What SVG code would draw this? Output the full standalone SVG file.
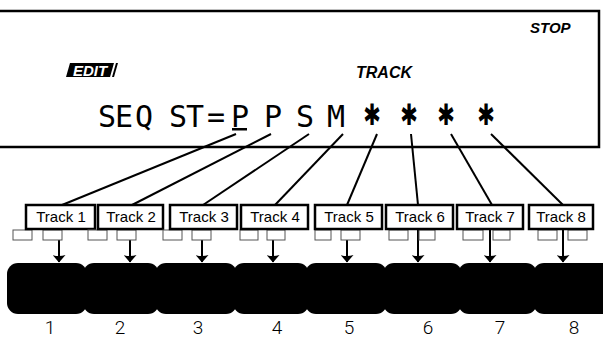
<svg xmlns="http://www.w3.org/2000/svg" width="603" height="339" viewBox="0 0 603 339">
<style>
.lcd{font-family:"DejaVu Sans Mono",monospace;font-size:30px;fill:#000;text-anchor:middle}
.ast{font-family:"DejaVu Sans",sans-serif;font-size:28px;fill:#000;text-anchor:middle}
.lbl{font-family:"Liberation Sans",Arial,sans-serif;font-weight:bold;font-style:italic;fill:#000}
.tb{fill:#fff;stroke:#000;stroke-width:2.5}
.tt{font-family:"Liberation Sans",Arial,sans-serif;font-size:15px;fill:#000;text-anchor:middle}
.sm{fill:#fff;stroke:#555;stroke-width:1}
.conn{stroke:#000;stroke-width:2;fill:none}
.arr{stroke:#000;stroke-width:2;fill:none;marker-end:url(#ah)}
.blob{fill:#000}
.num{font-family:Roboto,"DejaVu Sans",sans-serif;font-weight:300;font-size:19px;fill:#000;text-anchor:middle}
</style>
<defs>
<marker id="ah" markerWidth="8" markerHeight="13" refX="7" refY="6.5" orient="auto" markerUnits="userSpaceOnUse" viewBox="0 0 8 13">
<path d="M0,0 Q2,6.5 0,13 L7.5,6.5 Z" fill="#000"/>
</marker>
</defs>
<g id="display">
<rect x="-3" y="11" width="602" height="136" fill="#fff" stroke="#000" stroke-width="2.5"/>
<text class="lbl" x="530" y="33" font-size="15">STOP</text>
<polygon points="66,77 70,63 114,63 110,77" fill="#000"/>
<polygon points="112,77 116,63 118,63 114,77" fill="#000"/>
<text x="90" y="75.5" font-family="Liberation Sans,Arial,sans-serif" font-weight="bold" font-style="italic" font-size="15" fill="#fff" text-anchor="middle">EDIT</text>
<text class="lbl" x="356" y="78" font-size="16">TRACK</text>
<g id="lcdtext">
<text class="lcd" x="107" y="127">S</text>
<text class="lcd" x="124" y="127">E</text>
<text class="lcd" x="144" y="127">Q</text>
<text class="lcd" x="178" y="127">S</text>
<text class="lcd" x="195" y="127">T</text>
<text class="lcd" x="216" y="127">=</text>
<text class="lcd" x="240" y="127">P</text>
<rect x="232" y="128" width="15" height="2.5" fill="#000"/>
<text class="lcd" x="273" y="127">P</text>
<text class="lcd" x="305" y="127">S</text>
<text class="lcd" x="336" y="127">M</text>
<text class="ast" transform="translate(372,125) scale(0.75,1.05)">✱</text>
<text class="ast" transform="translate(409,125) scale(0.75,1.05)">✱</text>
<text class="ast" transform="translate(446,125) scale(0.75,1.05)">✱</text>
<text class="ast" transform="translate(486,125) scale(0.75,1.05)">✱</text>
</g>
</g>
<g id="connectors">
<line class="conn" x1="236" y1="134" x2="62" y2="205"/>
<line class="conn" x1="271" y1="134" x2="132" y2="205"/>
<line class="conn" x1="309" y1="134" x2="203" y2="205"/>
<line class="conn" x1="343" y1="134" x2="275" y2="205"/>
<line class="conn" x1="377" y1="134" x2="347" y2="205"/>
<line class="conn" x1="411" y1="134" x2="418" y2="205"/>
<line class="conn" x1="451" y1="134" x2="492" y2="205"/>
<line class="conn" x1="491" y1="134" x2="563" y2="205"/>
<line class="arr" x1="59" y1="229" x2="59" y2="262"/>
<line class="arr" x1="130" y1="229" x2="130" y2="262"/>
<line class="arr" x1="202" y1="229" x2="202" y2="262"/>
<line class="arr" x1="273" y1="229" x2="273" y2="262"/>
<line class="arr" x1="347" y1="229" x2="347" y2="262"/>
<line class="arr" x1="418" y1="229" x2="418" y2="262"/>
<line class="arr" x1="490" y1="229" x2="490" y2="262"/>
<line class="arr" x1="563" y1="229" x2="563" y2="262"/>
</g>
<g id="track1"><rect class="sm" x="13" y="230" width="19" height="10"/><rect class="sm" x="43" y="230" width="19" height="10"/><rect class="tb" x="26" y="205" width="69" height="24"/><text class="tt" x="61" y="222">Track 1</text></g>
<g id="track2"><rect class="sm" x="88" y="230" width="19" height="10"/><rect class="sm" x="117" y="230" width="19" height="10"/><rect class="tb" x="98" y="205" width="65" height="24"/><text class="tt" x="131" y="222">Track 2</text></g>
<g id="track3"><rect class="sm" x="163" y="230" width="19" height="10"/><rect class="sm" x="192" y="230" width="19" height="10"/><rect class="tb" x="170" y="205" width="67" height="24"/><text class="tt" x="204" y="222">Track 3</text></g>
<g id="track4"><rect class="sm" x="240" y="230" width="18" height="10"/><rect class="sm" x="267" y="230" width="18" height="10"/><rect class="tb" x="241" y="205" width="67" height="24"/><text class="tt" x="275" y="222">Track 4</text></g>
<g id="track5"><rect class="sm" x="315" y="230" width="16" height="10"/><rect class="sm" x="341" y="230" width="19" height="10"/><rect class="tb" x="315" y="205" width="67" height="24"/><text class="tt" x="349" y="222">Track 5</text></g>
<g id="track6"><rect class="sm" x="389" y="230" width="19" height="10"/><rect class="sm" x="419" y="230" width="16" height="10"/><rect class="tb" x="386" y="205" width="67" height="24"/><text class="tt" x="420" y="222">Track 6</text></g>
<g id="track7"><rect class="sm" x="463" y="230" width="20" height="10"/><rect class="sm" x="493" y="230" width="17" height="10"/><rect class="tb" x="457" y="205" width="66" height="24"/><text class="tt" x="490" y="222">Track 7</text></g>
<g id="track8"><rect class="sm" x="538" y="230" width="19" height="10"/><rect class="sm" x="568" y="230" width="19" height="10"/><rect class="tb" x="529" y="205" width="64" height="24"/><text class="tt" x="561" y="222">Track 8</text></g>
<g id="pads">
<rect class="blob" x="7" y="263" width="80" height="51" rx="11"/>
<rect class="blob" x="83" y="263" width="76" height="51" rx="11"/>
<rect class="blob" x="155" y="263" width="82" height="51" rx="11"/>
<rect class="blob" x="233" y="263" width="76" height="51" rx="11"/>
<rect class="blob" x="305" y="263" width="82" height="51" rx="11"/>
<rect class="blob" x="383" y="263" width="79" height="51" rx="11"/>
<rect class="blob" x="458" y="263" width="79" height="51" rx="11"/>
<rect class="blob" x="533" y="263" width="90" height="51" rx="11"/>
</g>
<g id="numbers">
<text class="num" x="50" y="334">1</text>
<text class="num" x="120" y="334">2</text>
<text class="num" x="198" y="334">3</text>
<text class="num" x="277" y="334">4</text>
<text class="num" x="349" y="334">5</text>
<text class="num" x="428" y="334">6</text>
<text class="num" x="500" y="334">7</text>
<text class="num" x="574" y="334">8</text>
</g>
</svg>
